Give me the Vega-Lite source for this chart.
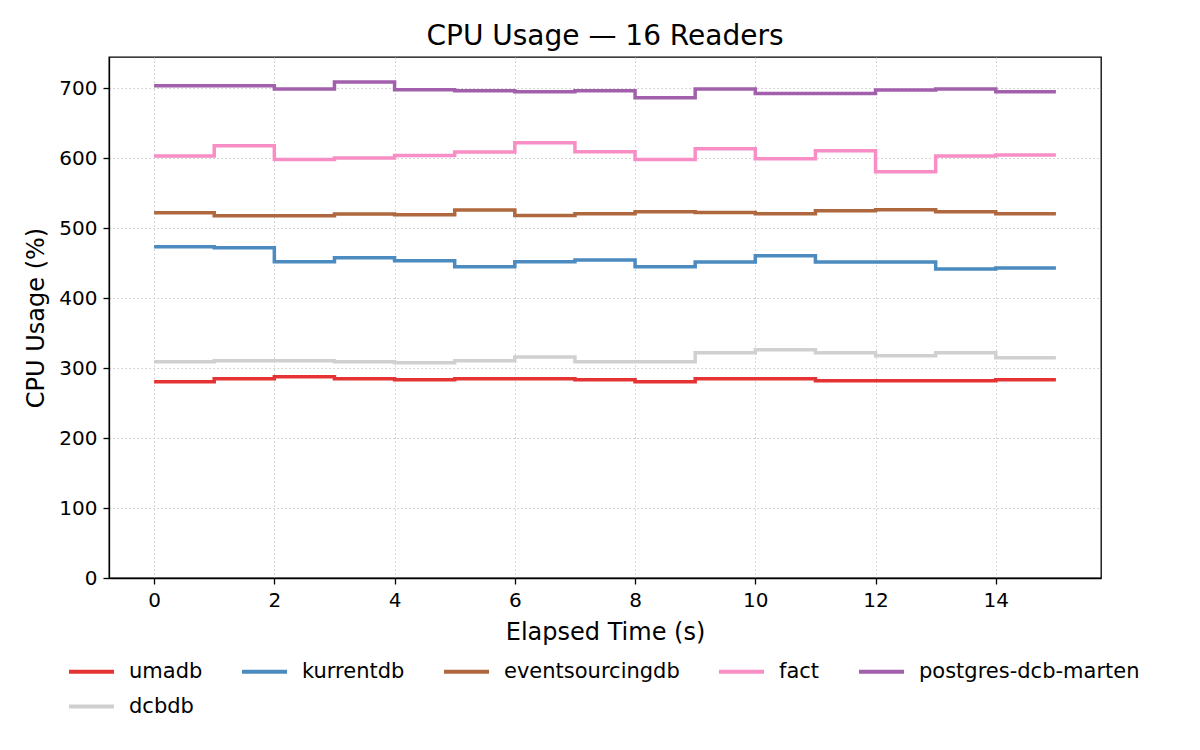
{
  "$schema": "https://vega.github.io/schema/vega-lite/v6.json",
  "width": 992,
  "height": 521,
  "autosize": "none",
  "padding": {"left": 109, "top": 57, "right": 99, "bottom": 172},
  "background": "white",
  "title": {"text": "CPU Usage — 16 Readers", "fontSize": 28, "font": "DejaVu Sans", "fontWeight": "normal", "color": "black", "offset": 6},
  "config": {
    "font": "DejaVu Sans",
    "view": {"stroke": "black", "strokeWidth": 1.3},
    "axis": {
      "domain": true, "domainColor": "black", "domainWidth": 1.3,
      "labelFont": "DejaVu Sans", "labelFontSize": 20, "labelColor": "black",
      "titleFont": "DejaVu Sans", "titleFontSize": 24, "titleFontWeight": "normal", "titleColor": "black",
      "tickColor": "black", "tickSize": 6, "tickWidth": 1.3, "labelPadding": 6,
      "gridColor": "#c8c8c8", "gridDash": [1.5, 2.5], "gridWidth": 1
    },
    "legend": {
      "orient": "none", "legendX": -42, "legendY": 590, "direction": "horizontal", "columns": 5,
      "symbolType": "stroke", "symbolSize": 2025, "symbolStrokeWidth": 4,
      "labelFont": "DejaVu Sans", "labelFontSize": 21, "labelColor": "black", "labelLimit": 400,
      "labelOffset": 13, "columnPadding": 31, "rowPadding": -25, "padding": 0
    }
  },
  "data": {"values": [
    {"t": 0, "db": "umadb", "cpu": 280.5}, {"t": 1, "db": "umadb", "cpu": 284.8}, {"t": 2, "db": "umadb", "cpu": 287.6}, {"t": 3, "db": "umadb", "cpu": 284.8},
    {"t": 4, "db": "umadb", "cpu": 283.3}, {"t": 5, "db": "umadb", "cpu": 284.8}, {"t": 6, "db": "umadb", "cpu": 284.8}, {"t": 7, "db": "umadb", "cpu": 283.3},
    {"t": 8, "db": "umadb", "cpu": 280.5}, {"t": 9, "db": "umadb", "cpu": 284.8}, {"t": 10, "db": "umadb", "cpu": 284.8}, {"t": 11, "db": "umadb", "cpu": 281.9},
    {"t": 12, "db": "umadb", "cpu": 281.9}, {"t": 13, "db": "umadb", "cpu": 281.9}, {"t": 14, "db": "umadb", "cpu": 283.3}, {"t": 15, "db": "umadb", "cpu": 283.3},
    {"t": 0, "db": "kurrentdb", "cpu": 473.3}, {"t": 1, "db": "kurrentdb", "cpu": 471.9}, {"t": 2, "db": "kurrentdb", "cpu": 451.9}, {"t": 3, "db": "kurrentdb", "cpu": 457.6},
    {"t": 4, "db": "kurrentdb", "cpu": 453.3}, {"t": 5, "db": "kurrentdb", "cpu": 444.8}, {"t": 6, "db": "kurrentdb", "cpu": 451.9}, {"t": 7, "db": "kurrentdb", "cpu": 454.3},
    {"t": 8, "db": "kurrentdb", "cpu": 444.8}, {"t": 9, "db": "kurrentdb", "cpu": 451.4}, {"t": 10, "db": "kurrentdb", "cpu": 460.5}, {"t": 11, "db": "kurrentdb", "cpu": 451.4},
    {"t": 12, "db": "kurrentdb", "cpu": 451.4}, {"t": 13, "db": "kurrentdb", "cpu": 441.4}, {"t": 14, "db": "kurrentdb", "cpu": 442.9}, {"t": 15, "db": "kurrentdb", "cpu": 442.9},
    {"t": 0, "db": "eventsourcingdb", "cpu": 521.9}, {"t": 1, "db": "eventsourcingdb", "cpu": 517.6}, {"t": 2, "db": "eventsourcingdb", "cpu": 517.6}, {"t": 3, "db": "eventsourcingdb", "cpu": 520.0},
    {"t": 4, "db": "eventsourcingdb", "cpu": 519.0}, {"t": 5, "db": "eventsourcingdb", "cpu": 525.7}, {"t": 6, "db": "eventsourcingdb", "cpu": 518.1}, {"t": 7, "db": "eventsourcingdb", "cpu": 520.5},
    {"t": 8, "db": "eventsourcingdb", "cpu": 523.3}, {"t": 9, "db": "eventsourcingdb", "cpu": 522.4}, {"t": 10, "db": "eventsourcingdb", "cpu": 520.5}, {"t": 11, "db": "eventsourcingdb", "cpu": 524.8},
    {"t": 12, "db": "eventsourcingdb", "cpu": 526.2}, {"t": 13, "db": "eventsourcingdb", "cpu": 523.3}, {"t": 14, "db": "eventsourcingdb", "cpu": 520.5}, {"t": 15, "db": "eventsourcingdb", "cpu": 520.5},
    {"t": 0, "db": "fact", "cpu": 602.9}, {"t": 1, "db": "fact", "cpu": 617.6}, {"t": 2, "db": "fact", "cpu": 598.1}, {"t": 3, "db": "fact", "cpu": 600.0},
    {"t": 4, "db": "fact", "cpu": 603.8}, {"t": 5, "db": "fact", "cpu": 608.6}, {"t": 6, "db": "fact", "cpu": 621.9}, {"t": 7, "db": "fact", "cpu": 609.0},
    {"t": 8, "db": "fact", "cpu": 598.1}, {"t": 9, "db": "fact", "cpu": 613.3}, {"t": 10, "db": "fact", "cpu": 599.0}, {"t": 11, "db": "fact", "cpu": 610.5},
    {"t": 12, "db": "fact", "cpu": 580.5}, {"t": 13, "db": "fact", "cpu": 602.9}, {"t": 14, "db": "fact", "cpu": 604.3}, {"t": 15, "db": "fact", "cpu": 604.3},
    {"t": 0, "db": "postgres-dcb-marten", "cpu": 703.3}, {"t": 1, "db": "postgres-dcb-marten", "cpu": 703.3}, {"t": 2, "db": "postgres-dcb-marten", "cpu": 698.6}, {"t": 3, "db": "postgres-dcb-marten", "cpu": 708.6},
    {"t": 4, "db": "postgres-dcb-marten", "cpu": 697.6}, {"t": 5, "db": "postgres-dcb-marten", "cpu": 696.2}, {"t": 6, "db": "postgres-dcb-marten", "cpu": 694.8}, {"t": 7, "db": "postgres-dcb-marten", "cpu": 696.2},
    {"t": 8, "db": "postgres-dcb-marten", "cpu": 686.2}, {"t": 9, "db": "postgres-dcb-marten", "cpu": 698.6}, {"t": 10, "db": "postgres-dcb-marten", "cpu": 692.4}, {"t": 11, "db": "postgres-dcb-marten", "cpu": 692.4},
    {"t": 12, "db": "postgres-dcb-marten", "cpu": 697.1}, {"t": 13, "db": "postgres-dcb-marten", "cpu": 698.6}, {"t": 14, "db": "postgres-dcb-marten", "cpu": 694.8}, {"t": 15, "db": "postgres-dcb-marten", "cpu": 694.8},
    {"t": 0, "db": "dcbdb", "cpu": 309.0}, {"t": 1, "db": "dcbdb", "cpu": 310.5}, {"t": 2, "db": "dcbdb", "cpu": 310.5}, {"t": 3, "db": "dcbdb", "cpu": 309.0},
    {"t": 4, "db": "dcbdb", "cpu": 307.6}, {"t": 5, "db": "dcbdb", "cpu": 310.5}, {"t": 6, "db": "dcbdb", "cpu": 315.7}, {"t": 7, "db": "dcbdb", "cpu": 309.0},
    {"t": 8, "db": "dcbdb", "cpu": 309.0}, {"t": 9, "db": "dcbdb", "cpu": 321.9}, {"t": 10, "db": "dcbdb", "cpu": 326.2}, {"t": 11, "db": "dcbdb", "cpu": 321.9},
    {"t": 12, "db": "dcbdb", "cpu": 317.6}, {"t": 13, "db": "dcbdb", "cpu": 321.9}, {"t": 14, "db": "dcbdb", "cpu": 314.8}, {"t": 15, "db": "dcbdb", "cpu": 314.8}
  ]},
  "mark": {"type": "line", "interpolate": "step-after", "strokeWidth": 3.5},
  "encoding": {
    "x": {
      "field": "t", "type": "quantitative", "title": "Elapsed Time (s)",
      "scale": {"domain": [-0.75, 15.75], "nice": false, "zero": false},
      "axis": {"values": [0, 2, 4, 6, 8, 10, 12, 14], "titlePadding": 10}
    },
    "y": {
      "field": "cpu", "type": "quantitative", "title": "CPU Usage (%)",
      "scale": {"domain": [0, 744.4], "nice": false},
      "axis": {"values": [0, 100, 200, 300, 400, 500, 600, 700], "titlePadding": 10}
    },
    "color": {
      "field": "db", "type": "nominal", "title": null,
      "scale": {
        "domain": ["umadb", "kurrentdb", "eventsourcingdb", "fact", "postgres-dcb-marten", "dcbdb"],
        "range": ["#e53232", "#4b8bc0", "#af673e", "#f88ec5", "#a260ac", "#d0d0d0"]
      }
    }
  }
}
